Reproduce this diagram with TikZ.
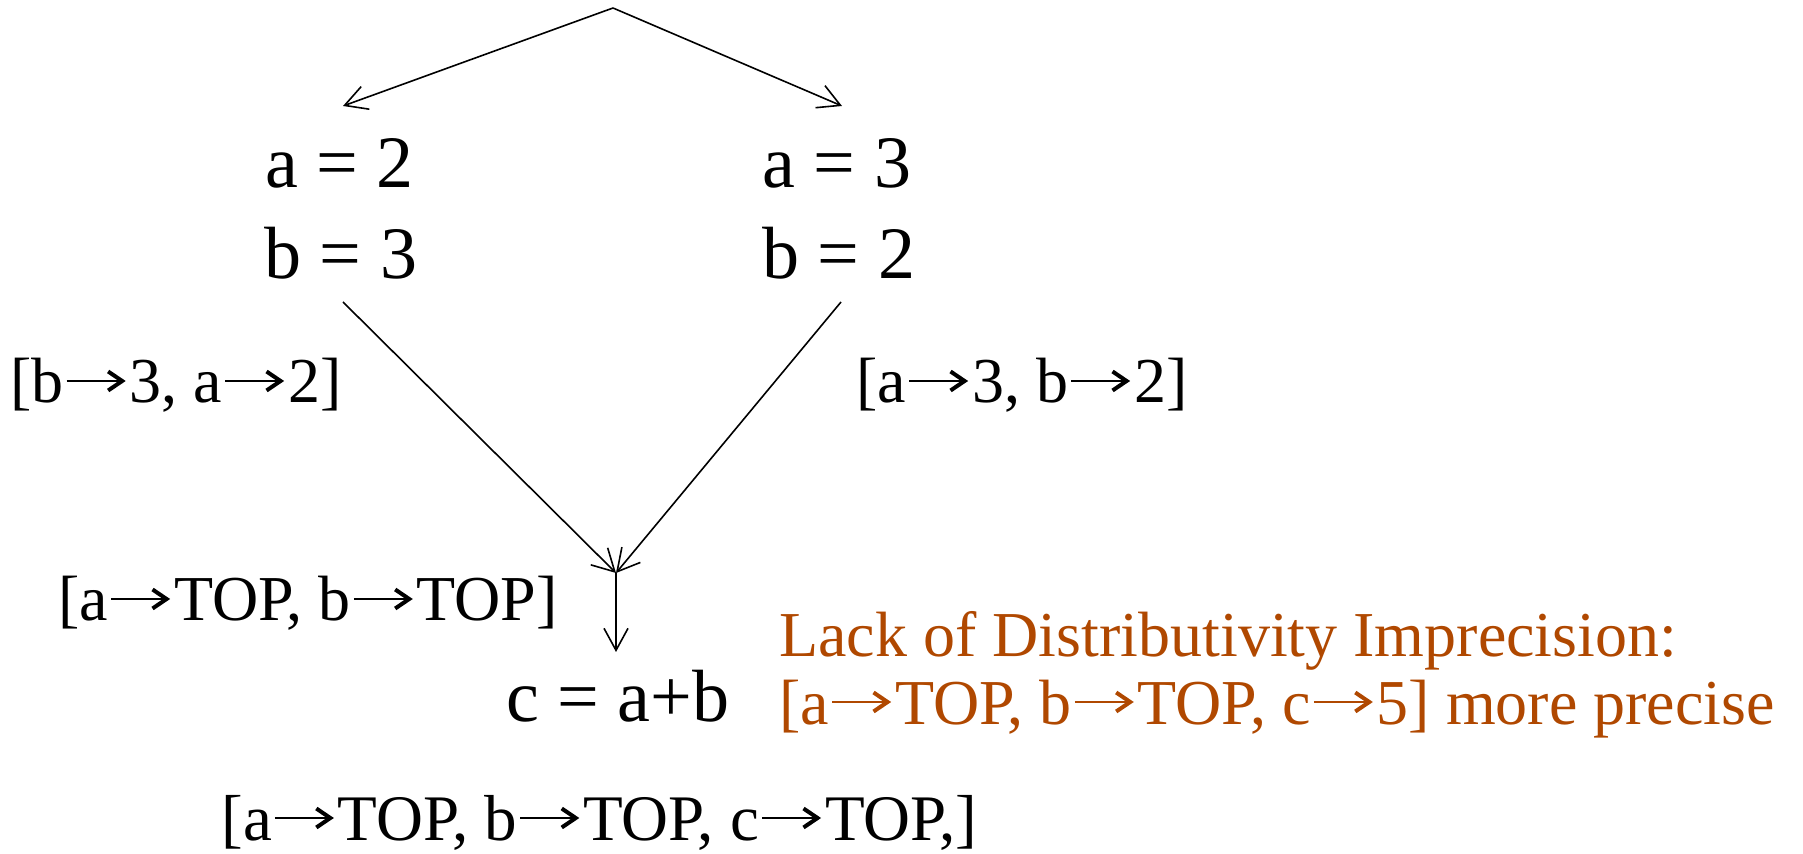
\documentclass[tikz,border=0pt]{standalone}
\usepackage{fontspec}
\setmainfont{Liberation Serif}
\usetikzlibrary{arrows.meta}
\definecolor{note}{RGB}{176,72,0}
\newcommand\maparrow[1][black]{\tikz[baseline=0pt]{\useasboundingbox (0pt,0pt) rectangle (33pt,11pt);
  \draw[draw=#1, line width=1.2pt, -{Straight Barb[length=7pt,width=9.5pt,line width=2pt]}] (1.5pt,11pt) -- (31pt,11pt);}}
\tikzset{
  big/.style={font=\fontsize{37}{44}\selectfont, inner sep=0pt, anchor=base west},
  small/.style={font=\fontsize{32}{38}\selectfont, inner sep=0pt, anchor=base west},
  flow/.style={line width=0.8pt, -{Straight Barb[length=11pt,width=12pt,line width=0.8pt]}},
}
\begin{document}
\begin{tikzpicture}[x=0.5pt,y=-0.5pt]
\useasboundingbox (0,0) rectangle (1803,854);
% coordinates
\coordinate (apex) at (613,8);
\coordinate (lt) at (343,106);
\coordinate (rt) at (842,106);
\coordinate (ls) at (343,302);
\coordinate (rs) at (841,302);
\coordinate (join) at (616,573);
\coordinate (ct) at (616,652);
% texts
\node[big] (a2) at (265,188) {a = 2};
\node[big] (b3) at (264,279) {b = 3};
\node[big] (a3) at (762,188) {a = 3};
\node[big] (b2) at (762,279) {b = 2};
\node[small] (lab1) at (10,403) {[b\maparrow3, a\maparrow2]};
\node[small] (lab2) at (856,403) {[a\maparrow3, b\maparrow2]};
\node[small] (lab3) at (58,621) {[a\maparrow TOP, b\maparrow TOP]};
\node[big] (c) at (506,721) {c = a+b};
\node[small, font=\fontsize{32.5}{38}\selectfont] (lab4) at (221,840) {[a\maparrow TOP, b\maparrow TOP, c\maparrow TOP,]};
\node[small, text=note] (n1) at (779,656) {Lack of Distributivity Imprecision:};
\node[small, text=note] (n2) at (779,724) {[a\maparrow[note]TOP, b\maparrow[note]TOP, c\maparrow[note]5] more precise};
% connectors
\draw[flow] (apex) -- (lt);
\draw[flow] (apex) -- (rt);
\draw[flow] (ls) -- (join);
\draw[flow] (rs) -- (join);
\draw[flow] (join) -- (ct);
\end{tikzpicture}
\end{document}
